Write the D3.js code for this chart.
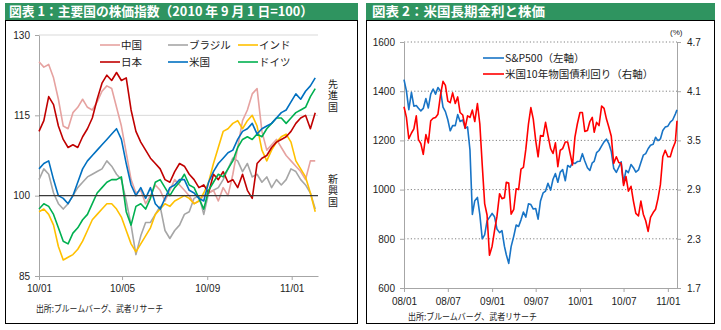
<!DOCTYPE html>
<html><head><meta charset="utf-8">
<script src="https://cdn.jsdelivr.net/npm/d3@7"></script>
<style>
body{margin:0;background:#fff}
svg{display:block}
.num{font-family:"Liberation Sans",Arial,sans-serif;font-size:10px;fill:#222}
.jp{font-family:"Noto Sans CJK JP","Noto Sans",sans-serif}
</style></head><body>
<svg id="c" width="721" height="330"></svg>
<script>
// ---------- Panel 1 data: weekly from 2010-01-01 (index = week) ----------
const p1Start = "2010-01-01";
const p1Names = ["中国","ブラジル","インド","日本","米国","ドイツ"];
const china  = [125,124,124.5,122,118,113,112.5,115.5,116.5,118,116.5,116,117.5,119.5,120.5,120,116.5,113,108,103,100.5,101,98.5,100,102,101,99,101,103,102,101,100,98.5,99,100,100.5,101,99,101.5,100,104,109,114,116,119,120,112,108.5,109.5,110.5,109,107.5,106.5,105.5,104.5,103,106.5,106.5];
const brazil = [103,105,104,100.5,98.5,97.5,98.5,100,101.5,102.5,103.5,104,104.5,105,106.5,105.5,104,103,99,94.5,89,92.5,95,95,96.5,98,93.5,92,93.5,94.5,96.5,97,99.5,100,96.5,100.5,101,101.5,103,105,107,106.5,104.5,106,103.5,104,102.5,103.5,101.5,103,102,103,105,104.5,103,102,100.5,97.5];
const india  = [97,97.5,96.5,94.5,90.5,88,88.5,89,90,91.5,93.5,95.5,96.5,97.5,98.5,98.5,97.5,96,93.5,91,89.5,91,92.5,94,96.5,97.5,98.5,98,99,99.5,100,99.5,98.5,99,100.5,102.5,106,109,112,112.5,113.5,114,112.5,114,115,113,108.5,106.5,108.5,110,111,111.5,110,106.5,105,103.5,100.5,97];
const japan  = [112,114,118.5,117,113,110.5,109,109.5,109,111,112.5,114.5,118,121,122.5,121.5,123,121.5,122,116,112,110,108.5,107,106,105,103,102.5,104.5,106,105.5,104,103,101.5,102,100.5,104,103,104.5,102.5,103,101.5,104,101,99.5,106,107,107.5,109,110,110.5,111,112,113.5,114.5,115,112.5,115.5];
const usa    = [105,106,106.5,103,100,99.5,98.5,100,102.5,105,106.5,107.5,108.5,109.5,110.5,111.5,112.5,110.5,106,102,100,101.5,99.5,101.5,98.5,97.5,99.5,101.5,102,103,103,101,100.5,99.5,99,102.5,104.5,106,107,108,108.5,110.5,112,112.5,113.5,111.5,112.5,113,113.5,114.5,115.5,116,117.5,119,118,119.5,120.5,122];
const germany= [97.5,98.5,98,96.5,94,91.5,91,93,94,95.5,96.5,98.5,100.5,101.5,102.5,103,103,103.5,97,94.5,98,98.5,97.5,99.5,102.5,103,101.5,100,101.5,102.5,104,102,101.5,99.5,97.5,101,102.5,104,103.5,105,106.5,109,110.5,111,110.5,111.5,111,112.5,113.5,114.5,114.5,113.5,114.5,115.5,116,116.5,118.5,120];
const p1Colors = ["#E6A2A0","#A6A6A6","#FFC000","#C00000","#0070C0","#00B050"];
const p1YTicks = [85,100,115,130];
const p1XTicks = ["2010-01-01","2010-05-01","2010-09-01","2011-01-01"];
const sideLabels = ["先進国","新興国"];

// ---------- Panel 2 data: 1st/11th/21st of each month 2008-01 .. 2011-01, then 2011-02-01, 2011-02-08 ----------
const spx = [1447,1401,1325, 1395,1339,1342, 1331,1320,1330, 1370,1332,1388, 1409,1388,1415, 1400,1335,1317, 1284,1239,1260, 1260,1305,1277, 1283,1249,1255, 1161,899,955, 968,898,800, 816,873,887,
             903,890,840, 825,833,770, 735,700,768, 811,856,850, 877,909,888, 942,939,921, 923,880,954, 987,994,1026, 998,1042,1065, 1030,1071,1081, 1036,1098,1091, 1109,1106,1114,
             1115,1146,1116, 1089,1078,1109, 1115,1150,1159, 1178,1194,1205, 1187,1155,1087, 1070,1091,1113, 1027,1078,1069, 1102,1089,1071, 1080,1110,1140, 1146,1166,1180, 1184,1213,1199, 1206,1240,1254,
             1258,1274,1283, 1307,1324];
const ust10 = [3.91,3.78,3.52, 3.59,3.64,3.80, 3.51,3.46,3.33, 3.57,3.47,3.74, 3.77,3.78,3.82, 4.06,4.22,4.17, 3.98,3.96,4.08, 3.95,4.03,3.84, 3.81,3.65,3.80, 3.78,3.87,3.73, 3.95,3.70,3.20, 2.73,2.59,2.10,
               2.21,2.40,2.57, 2.85,2.79,2.80, 2.99,2.98,2.60, 2.66,2.91,2.90, 3.15,3.17,3.39, 3.70,3.90,3.76, 3.50,3.30,3.56, 3.55,3.72,3.56, 3.40,3.34,3.47, 3.18,3.38,3.40, 3.48,3.48,3.34, 3.20,3.54,3.70,
               3.84,3.84,3.61, 3.62,3.73,3.78, 3.60,3.72,3.68, 3.92,3.89,3.76, 3.66,3.55,3.22, 3.30,3.23,3.22, 2.95,3.06,2.88, 2.94,2.76,2.61, 2.58,2.76,2.60, 2.52,2.39,2.56, 2.62,2.66,2.79, 2.96,3.30,3.38,
               3.30,3.30,3.40, 3.48,3.74];
const p2Names = ["S&P500（左軸）","米国10年物国債利回り（右軸）"];
const p2Colors = ["#1874C6","#FF0000"];
const p2LeftTicks = [600,800,1000,1200,1400,1600];
const p2RightTicks = [1.7,2.3,2.9,3.5,4.1,4.7];
const p2XTicks = ["2008-01-01","2008-07-01","2009-01-01","2009-07-01","2010-01-01","2010-07-01","2011-01-01"];

const titles = ["図表 1：主要国の株価指数（2010 年 9 月 1 日=100）","図表 2：米国長期金利と株価"];
const source = "出所:ブルームバーグ、武者リサーチ";

// ---------- build ----------
const svg = d3.select("#c");
const parse = d3.utcParse("%Y-%m-%d");
const fmt = d3.utcFormat("%y/%m");

const p1Dates = china.map((_, i) => d3.utcDay.offset(parse(p1Start), 7 * i));
const p2Dates = [];
d3.utcMonth.range(parse("2008-01-01"), parse("2011-02-01")).forEach(m => {
  [1, 11, 21].forEach(d => p2Dates.push(d3.utcDay.offset(m, d - 1)));
});
p2Dates.push(parse("2011-02-01"), parse("2011-02-08"));

// frames & titles
const green = "#2F9460";
[[5, 353], [366, 349]].forEach(([x, w]) => {
  svg.append("rect").attr("x", x).attr("y", 3).attr("width", w).attr("height", 17).attr("fill", green);
  svg.append("rect").attr("x", x + 0.5).attr("y", 20.5).attr("width", w - 1).attr("height", 303).attr("fill", "none").attr("stroke", "#000").attr("stroke-width", 1);
});
svg.append("text").attr("class", "jp").attr("x", 9).attr("y", 16).attr("fill", "#fff").attr("font-size", 13).attr("font-weight", "bold")
  .attr("textLength", 304).attr("lengthAdjust", "spacingAndGlyphs").text(titles[0]);
svg.append("text").attr("class", "jp").attr("x", 372).attr("y", 16).attr("fill", "#fff").attr("font-size", 13).attr("font-weight", "bold")
  .attr("textLength", 173).attr("lengthAdjust", "spacingAndGlyphs").text(titles[1]);

// ---------- Panel 1 ----------
const x1 = d3.scaleUtc().domain([parse("2010-01-01"), parse("2011-02-08")]).range([39, 318]);
const y1 = d3.scaleLinear().domain([85, 130]).range([276, 35]);
const g1 = svg.append("g");

[115, 130].forEach(v => g1.append("line").attr("x1", 39).attr("x2", 318).attr("y1", y1(v)).attr("y2", y1(v)).attr("stroke", "#D9D9D9").attr("stroke-width", 1));

const yA1 = g1.append("g").attr("transform", "translate(39,0)")
  .call(d3.axisLeft(y1).tickValues(p1YTicks).tickSize(4).tickSizeOuter(0).tickPadding(5));
const xA1 = g1.append("g").attr("transform", "translate(0,276)")
  .call(d3.axisBottom(x1).tickValues(p1XTicks.map(parse)).tickFormat(fmt).tickSize(4).tickSizeOuter(0).tickPadding(5));
[yA1, xA1].forEach(a => {
  a.selectAll("path,line").attr("stroke", "#A6A6A6");
  a.selectAll("text").attr("class", "num").attr("font-size", null).attr("font-family", null);
});

const series1 = [china, brazil, india, japan, usa, germany];
const line1 = d3.line().x((d, i) => x1(p1Dates[i])).y(d => y1(d));
[1, 0, 2, 3, 5, 4].forEach(k => {
  g1.append("path").datum(series1[k]).attr("d", line1).attr("fill", "none")
    .attr("stroke", p1Colors[k]).attr("stroke-width", 1.6).attr("stroke-linejoin", "round");
});
g1.append("line").attr("x1", 39).attr("x2", 318).attr("y1", y1(100)).attr("y2", y1(100)).attr("stroke", "#3A3A3A").attr("stroke-width", 1.2);

// legend 1
const lx = [100, 168, 238], ly = [45, 62];
p1Names.forEach((n, k) => {
  const cx = lx[k % 3], cy = ly[Math.floor(k / 3)];
  g1.append("line").attr("x1", cx).attr("x2", cx + 20).attr("y1", cy).attr("y2", cy).attr("stroke", p1Colors[k]).attr("stroke-width", 1.6);
  g1.append("text").attr("class", "jp").attr("x", cx + 21).attr("y", cy + 4).attr("font-size", 10.5).attr("fill", "#222").text(n);
});
// vertical side labels (single text element each)
[[sideLabels[0], 79], [sideLabels[1], 174]].forEach(([t, y]) => {
  g1.append("text").attr("class", "jp").attr("x", 333).attr("y", y)
    .attr("writing-mode", "tb").style("writing-mode", "vertical-rl")
    .attr("letter-spacing", 1.6).attr("font-size", 10).attr("fill", "#222").text(t);
});
g1.append("text").attr("class", "jp").attr("x", 36).attr("y", 312).attr("font-size", 9).attr("fill", "#222")
  .attr("textLength", 127).attr("lengthAdjust", "spacingAndGlyphs").text(source);

// ---------- Panel 2 ----------
const x2 = d3.scaleUtc().domain([parse("2008-01-01"), parse("2011-02-08")]).range([404, 677]);
const yl = d3.scaleLinear().domain([600, 1600]).range([288, 42]);
const yr = d3.scaleLinear().domain([1.7, 4.7]).range([288, 42]);
const g2 = svg.append("g");

p2LeftTicks.filter(v => v > 600).forEach(v => g2.append("line").attr("x1", 404).attr("x2", 677).attr("y1", yl(v)).attr("y2", yl(v))
  .attr("stroke", "#808080").attr("stroke-width", 1).attr("stroke-dasharray", "1.2,2.2"));

const aL = g2.append("g").attr("transform", "translate(404,0)").call(d3.axisLeft(yl).tickValues(p2LeftTicks).tickFormat(d3.format("d")).tickSize(4).tickSizeOuter(0).tickPadding(5));
const aR = g2.append("g").attr("transform", "translate(677,0)").call(d3.axisRight(yr).tickValues(p2RightTicks).tickFormat(d3.format(".1f")).tickSize(4).tickSizeOuter(0).tickPadding(6));
const aB = g2.append("g").attr("transform", "translate(0,288)").call(d3.axisBottom(x2).tickValues(p2XTicks.map(parse)).tickFormat(fmt).tickSize(4).tickSizeOuter(0).tickPadding(6));
[aL, aR, aB].forEach(a => {
  a.selectAll("path,line").attr("stroke", "#A6A6A6");
  a.selectAll("text").attr("class", "num").attr("font-size", null).attr("font-family", null);
});
g2.append("text").attr("class", "num").attr("x", 670).attr("y", 35).style("font-size", "8px").text("(%)");

const lineL = d3.line().x((d, i) => x2(p2Dates[i])).y(d => yl(d));
const lineR = d3.line().x((d, i) => x2(p2Dates[i])).y(d => yr(d));
g2.append("path").datum(spx).attr("d", lineL).attr("fill", "none").attr("stroke", p2Colors[0]).attr("stroke-width", 1.6).attr("stroke-linejoin", "round");
g2.append("path").datum(ust10).attr("d", lineR).attr("fill", "none").attr("stroke", p2Colors[1]).attr("stroke-width", 1.6).attr("stroke-linejoin", "round");

[[58, 0], [74, 1]].forEach(([y, k]) => {
  g2.append("line").attr("x1", 483).attr("x2", 504).attr("y1", y).attr("y2", y).attr("stroke", p2Colors[k]).attr("stroke-width", 1.6);
  g2.append("text").attr("class", "jp").attr("x", 505).attr("y", y + 4).attr("font-size", 10.5).attr("fill", "#222").text(p2Names[k]);
});
g2.append("text").attr("class", "jp").attr("x", 408).attr("y", 320).attr("font-size", 9).attr("fill", "#222")
  .attr("textLength", 129).attr("lengthAdjust", "spacingAndGlyphs").text(source);
</script></body></html>
